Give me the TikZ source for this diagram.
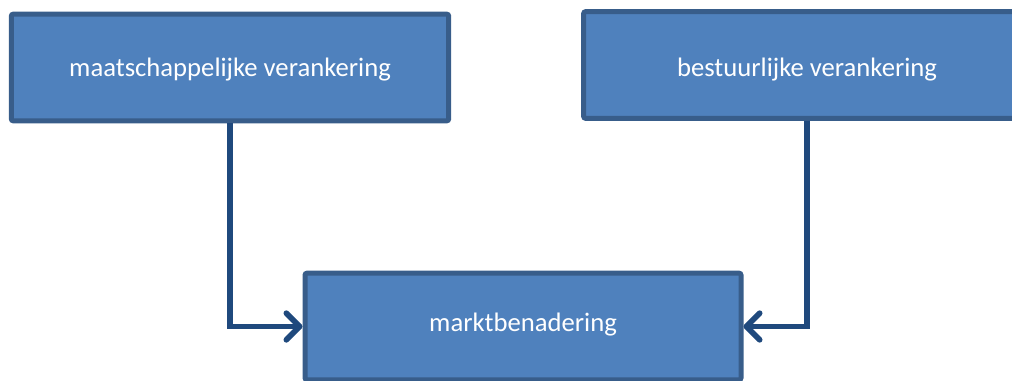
\documentclass[tikz,border=0pt]{standalone}
\usepackage{fontspec}
\setmainfont{Carlito}
\usetikzlibrary{arrows.meta}
\definecolor{boxfill}{HTML}{4F81BD}
\definecolor{boxline}{HTML}{385D8A}
\definecolor{arrowline}{HTML}{1F497D}
\begin{document}
\begin{tikzpicture}[x=0.75pt,y=-0.75pt,
  bluebox/.style={rectangle,draw=boxline,fill=boxfill,line width=3.75pt,rounded corners=1.5pt,
    text=white,font=\fontsize{20}{24}\selectfont,inner sep=0pt,text depth=0pt},
  link/.style={draw=arrowline,line width=4.25pt,
    -{Straight Barb[length=10pt,width=20pt,line cap=round,round]}}]
 \useasboundingbox (0,0) rectangle (1012,381);
 \clip (0,0) rectangle (1012,381);
 \node [bluebox,minimum width=328pt,minimum height=80pt,text height=14pt] (maat) at (230,67.5) {maatschappelijke verankering};
 \node [bluebox,minimum width=335pt,minimum height=80pt,text height=18pt] (bestuur) at (807,65) {bestuurlijke verankering};
 \node [bluebox,minimum width=327pt,minimum height=80pt,text height=8pt] (markt) at (523,326.5) {marktbenadering};

 \draw [link] (maat.south) |- (markt.west);
 \draw [link] (bestuur.south) |- (markt.east);
\end{tikzpicture}
\end{document}
